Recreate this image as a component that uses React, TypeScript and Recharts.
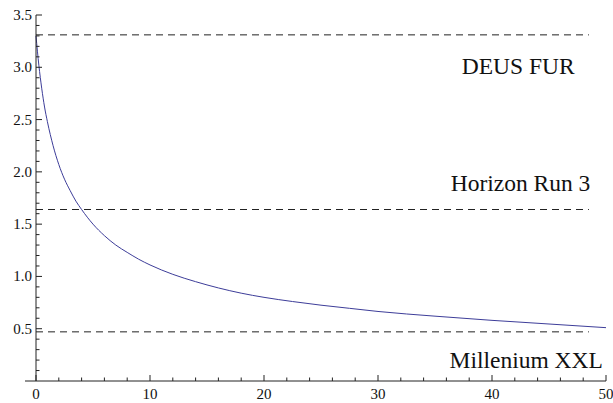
import { LineChart, Line, XAxis, YAxis, ReferenceLine, ReferenceDot } from 'recharts'

// curve samples
const xValues = [
  0, 0.25, 0.5, 0.75, 1, 1.5, 2, 2.5, 3, 3.5, 4, 5, 6, 7, 8, 9, 10, 12, 14, 16, 18, 20, 22.5, 25,
  27.5, 30, 35, 40, 45, 50,
]
const yValues = [
  3.3, 3.02, 2.8, 2.62, 2.48, 2.25, 2.07, 1.93, 1.82, 1.72, 1.64, 1.5, 1.39, 1.3, 1.23, 1.165, 1.11,
  1.02, 0.95, 0.89, 0.84, 0.8, 0.76, 0.725, 0.695, 0.665, 0.62, 0.58, 0.545, 0.51,
]

// horizontal survey levels
const levelNames = ['DEUS FUR', 'Horizon Run 3', 'Millenium XXL']
const levelValues = [3.31, 1.64, 0.47]
const levelEnd = 48.5

// where each name sits (data units, text baseline)
const labelX = [42.3, 42.5, 43.0]
const labelY = [2.94, 1.82, 0.127]

const xTicks = [0, 2, 4, 6, 8, 10, 12, 14, 16, 18, 20, 22, 24, 26, 28, 30, 32, 34, 36, 38, 40, 42, 44, 46, 48, 50]
const xLabels = [0, 10, 20, 30, 40, 50]
const yTicks = [
  0.1, 0.2, 0.3, 0.4, 0.5, 0.6, 0.7, 0.8, 0.9, 1.0, 1.1, 1.2, 1.3, 1.4, 1.5, 1.6, 1.7, 1.8,
  1.9, 2.0, 2.1, 2.2, 2.3, 2.4, 2.5, 2.6, 2.7, 2.8, 2.9, 3.0, 3.1, 3.2, 3.3, 3.4, 3.5,
]
const yLabels = [0.5, 1.0, 1.5, 2.0, 2.5, 3.0, 3.5]

const data = xValues.map((x, i) => ({ x, y: yValues[i] }))

const FONT = 'Liberation Serif, Times New Roman, serif'
const AXIS = '#222'

function XTick(props: any) {
  const { x, y, payload } = props
  const major = xLabels.includes(payload.value)
  return (
    <g>
      {payload.value === 0 && <line x1={x - 11} y1={y} x2={x} y2={y} stroke={AXIS} />}
      <line x1={x} y1={y} x2={x} y2={y - (major ? 6 : 3.5)} stroke={AXIS} />
      {major && (
        <text x={x} y={y + 18} textAnchor="middle" style={{ fontFamily: FONT, fontSize: 15 }} fill="#111">
          {payload.value}
        </text>
      )}
    </g>
  )
}

function YTick(props: any) {
  const { x, y, payload } = props
  const major = yLabels.includes(payload.value)
  return (
    <g>
      <line x1={x} y1={y} x2={x + (major ? 6 : 3.5)} y2={y} stroke={AXIS} />
      {major && (
        <text x={x - 4} y={y + 5} textAnchor="end" style={{ fontFamily: FONT, fontSize: 15 }} fill="#111">
          {payload.value.toFixed(1)}
        </text>
      )}
    </g>
  )
}

export default function App() {
  return (
    <div style={{ position: 'absolute', left: 0, top: 0, background: '#fff', fontFamily: FONT }}>
      <LineChart width={613} height={403} data={data} margin={{ top: 15, right: 7, left: 0, bottom: 0 }}>
        <XAxis
          dataKey="x"
          type="number"
          domain={[0, 50]}
          ticks={xTicks}
          interval={0}
          height={22}
          tickSize={0}
          tickMargin={0}
          tickLine={false}
          axisLine={{ stroke: AXIS }}
          tick={<XTick />}
        />
        <YAxis
          type="number"
          domain={[0, 3.5]}
          ticks={yTicks}
          interval={0}
          width={36}
          tickSize={0}
          tickMargin={0}
          tickLine={false}
          axisLine={{ stroke: AXIS }}
          tick={<YTick />}
        />
        {levelValues.map((v, i) => (
          <ReferenceLine
            key={levelNames[i]}
            segment={[{ x: 0, y: v }, { x: levelEnd, y: v }]}
            stroke="#222"
            strokeDasharray="7 5"
          />
        ))}
        <Line
          type="monotone"
          dataKey="y"
          stroke="#3d3d99"
          strokeWidth={1}
          dot={false}
          isAnimationActive={false}
        />
        {levelNames.map((name, i) => (
          <ReferenceDot
            key={name}
            x={labelX[i]}
            y={labelY[i]}
            r={0}
            fill="none"
            stroke="none"
            label={{
              content: (p: any) => {
                const vb = p.viewBox || {}
                const cx = vb.x + (vb.width || 0) / 2
                const cy = vb.y + (vb.height || 0) / 2
                return (
                  <text x={cx} y={cy} textAnchor="middle" style={{ fontFamily: FONT, fontSize: 23.5 }} fill="#111">
                    {name}
                  </text>
                )
              },
            }}
          />
        ))}
      </LineChart>
    </div>
  )
}
